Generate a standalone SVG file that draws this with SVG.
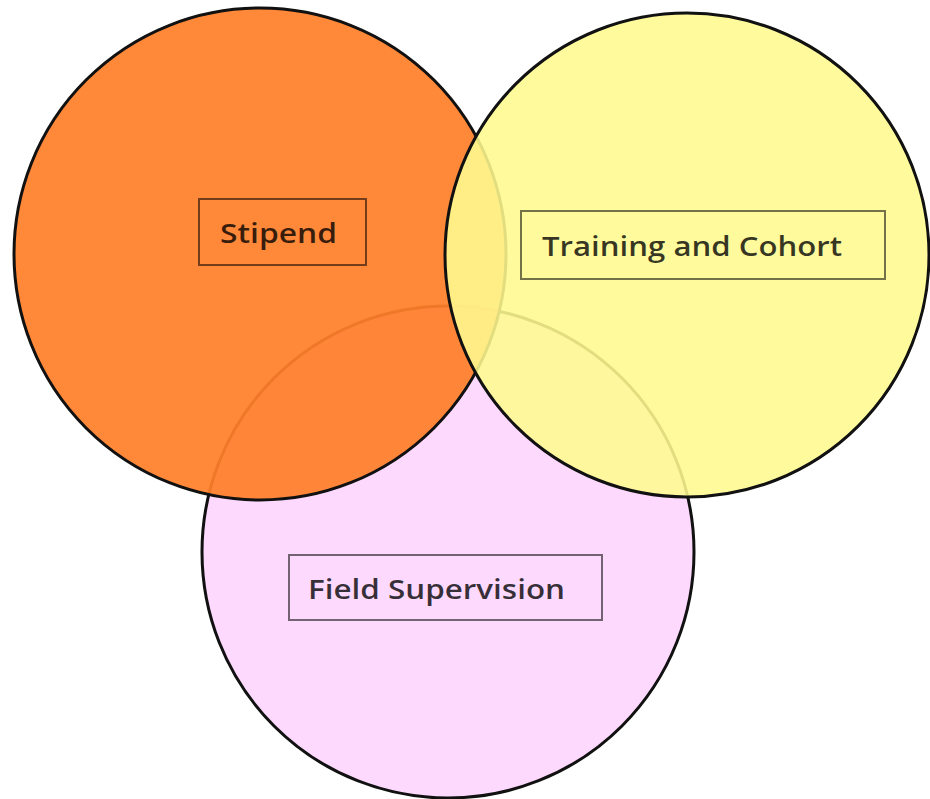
<svg xmlns="http://www.w3.org/2000/svg" width="930" height="799" viewBox="0 0 930 799">
<style>
.c{stroke:#111;stroke-width:3}
.box{fill:none;stroke:#000;stroke-opacity:0.55;stroke-width:2}
.t{font-family:"Open Sans","Liberation Sans",sans-serif;font-weight:600;font-size:27px;fill:#000;fill-opacity:0.78}
</style>
<rect width="930" height="799" fill="#fff"/>
<g id="field-supervision">
<circle class="c" cx="448" cy="552" r="246" fill="#fdd9fd"/>
</g>
<g id="stipend">
<circle class="c" cx="260" cy="254" r="246" fill="#ff7f2a" fill-opacity="0.93"/>
</g>
<g id="training-cohort">
<circle class="c" cx="687" cy="255" r="242" fill="#fffa90" fill-opacity="0.88"/>
</g>
<g id="labels">
<g id="label-stipend">
<rect class="box" x="199" y="199" width="167" height="66"/>
<text class="t" x="220" y="243" textLength="117" lengthAdjust="spacingAndGlyphs">Stipend</text>
</g>
<g id="label-training">
<rect class="box" x="521" y="211" width="364" height="68"/>
<text class="t" x="542" y="256" textLength="300" lengthAdjust="spacingAndGlyphs">Training and Cohort</text>
</g>
<g id="label-field">
<rect class="box" x="289" y="555" width="313" height="65"/>
<text class="t" x="308" y="599" textLength="257" lengthAdjust="spacingAndGlyphs">Field Supervision</text>
</g>
</g>
<g id="connectors"/>
</svg>
